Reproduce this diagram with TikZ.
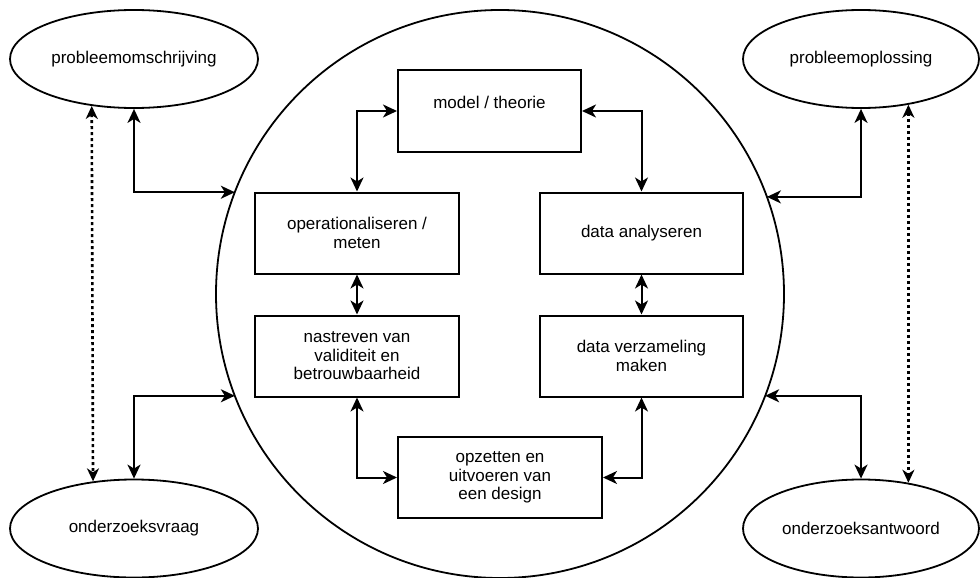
\documentclass[tikz,border=0pt]{standalone}
\usepackage{fontspec}
\setmainfont{Liberation Sans}
\usetikzlibrary{shapes.geometric,arrows.meta}
\begin{document}
\begin{tikzpicture}[x=1pt,y=-1pt,
  font=\fontsize{17}{18.5}\selectfont,
  box/.style={draw,line width=2pt,rectangle,inner sep=0pt,align=center,minimum width=204pt,minimum height=81pt},
  oval/.style={draw,line width=1.8pt,ellipse,inner sep=0pt,minimum height=98pt},
  link/.style={line width=2pt,{Stealth[length=14pt,width=13pt,inset=4pt]}-{Stealth[length=14pt,width=13pt,inset=4pt]}},
  dotlink/.style={line width=2.6pt,dash pattern=on 3pt off 3pt,{Stealth[length=13pt,width=12pt,inset=4pt]}-{Stealth[length=13pt,width=12pt,inset=4pt]}}]
\useasboundingbox (0,0) rectangle (980,578);
\node[circle,draw,line width=1.8pt,minimum size=568pt,inner sep=0pt,outer sep=0pt] (circ) at (500,294) {};
\node[oval,minimum width=248pt] (po) at (134,59) {probleemomschrijving};
\node[oval,minimum width=248pt] (ov) at (134,528.5) {onderzoeksvraag};
\node[oval,minimum width=236pt] (pl) at (861,59) {probleemoplossing};
\node[oval,minimum width=236pt] (oa) at (861,528.5) {onderzoeksantwoord};
\node[box,minimum width=183pt,minimum height=82pt,text depth=17pt] (model) at (489.5,111) {model / theorie};
\node[box] (op) at (357,233) {operationaliseren /\\meten};
\node[box] (na) at (357,356) {nastreven van\\validiteit en\\betrouwbaarheid};
\node[box,minimum width=203pt] (da) at (641.5,233) {data analyseren};
\node[box,minimum width=203pt] (dv) at (641.5,356) {data verzameling\\maken};
\node[box] (opz) at (500,477.5) {opzetten en\\uitvoeren van\\een design};
\draw[link] (model.west) -| (op.north);
\draw[link] (model.east) -| (da.north);
\draw[link] (op.south) -- (na.north);
\draw[link] (da.south) -- (dv.north);
\draw[link] (na.south) |- (opz.west);
\draw[link] (dv.south) |- (opz.east);
\draw[link] (po.south) |- (circ.159.17);
\draw[link] (ov.north) |- (circ.201.05);
\draw[link] (pl.south) |- (circ.20.83);
\draw[link] (oa.north) |- (circ.-21.05);
\draw[dotlink] (po.228.44) -- (ov.131.56);
\draw[dotlink] (pl.-44.4) -- (oa.44.4);
\end{tikzpicture}
\end{document}
